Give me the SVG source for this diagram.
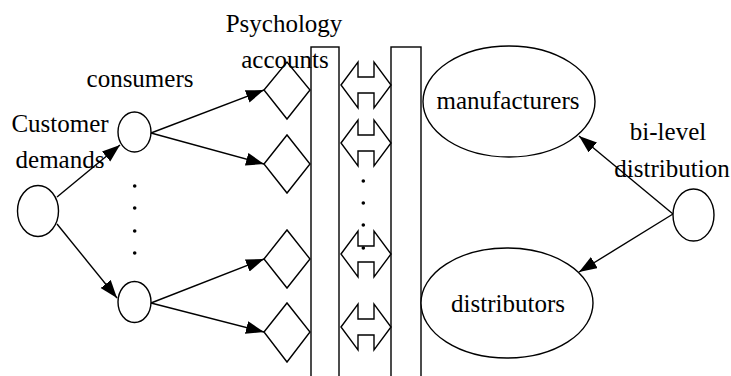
<svg xmlns="http://www.w3.org/2000/svg" width="731" height="376" viewBox="0 0 731 376">
<style>
  .n { fill: #fff; stroke: #000; stroke-width: 1.4; }
  .e { stroke: #000; stroke-width: 1.4; fill: none; }
  .t { font-family: "Liberation Serif", "Times New Roman", serif; font-size: 25px; fill: #000; text-anchor: middle; }
  .d { fill: #000; }
</style>
<defs>
  <marker id="ah" markerUnits="userSpaceOnUse" markerWidth="19" markerHeight="14" refX="18" refY="6.5" orient="auto">
    <path d="M0,0 L18,6.5 L0,13 z" fill="#000"/>
  </marker>
  <path id="dbl" d="M0,0 L17,-23 L17,-8 L33,-8 L33,-23 L50,0 L33,23 L33,8 L17,8 L17,23 z"/>
</defs>
<rect width="731" height="376" fill="#fff"/>

<g id="columns">
  <rect class="n" x="311" y="47" width="28" height="340"/>
  <rect class="n" x="391" y="47" width="30" height="340"/>
</g>

<g id="connectors">
  <line class="e" x1="57" y1="197" x2="120" y2="145" marker-end="url(#ah)"/>
  <line class="e" x1="57" y1="224" x2="117" y2="298" marker-end="url(#ah)"/>
  <line class="e" x1="151" y1="133" x2="264" y2="90" marker-end="url(#ah)"/>
  <line class="e" x1="151" y1="133" x2="264" y2="164" marker-end="url(#ah)"/>
  <line class="e" x1="151" y1="303" x2="264" y2="259" marker-end="url(#ah)"/>
  <line class="e" x1="151" y1="303" x2="264" y2="332" marker-end="url(#ah)"/>
  <line class="e" x1="673" y1="214" x2="579" y2="136" marker-end="url(#ah)"/>
  <line class="e" x1="673" y1="214" x2="579" y2="272" marker-end="url(#ah)"/>
</g>

<g id="customer-demands">
  <ellipse class="n" cx="38" cy="211" rx="20.5" ry="25.5"/>
  <text class="t" x="60" y="132">Customer</text>
  <text class="t" x="60" y="168">demands</text>
</g>

<g id="consumers">
  <text class="t" x="140" y="87">consumers</text>
  <ellipse class="n" cx="134.5" cy="132" rx="16.5" ry="20"/>
  <ellipse class="n" cx="134.5" cy="302" rx="16.5" ry="20.5"/>
  <circle class="d" cx="134.7" cy="186" r="1.8"/>
  <circle class="d" cx="134.7" cy="208" r="1.8"/>
  <circle class="d" cx="134.7" cy="231" r="1.8"/>
  <circle class="d" cx="134.7" cy="253" r="1.8"/>
</g>

<g id="psychology-accounts">
  <polygon class="n" points="264,90 287,62 310,90 287,119"/>
  <polygon class="n" points="264,164 287,135 310,164 287,193"/>
  <polygon class="n" points="264,259 287,230 310,259 287,288"/>
  <polygon class="n" points="264,332 287,303 310,332 287,362"/>
  <text class="t" x="284" y="32">Psychology</text>
  <text class="t" x="285" y="68">accounts</text>
</g>

<g id="exchange">
  <use href="#dbl" class="n" transform="translate(341,85)"/>
  <use href="#dbl" class="n" transform="translate(341,143)"/>
  <use href="#dbl" class="n" transform="translate(341,254)"/>
  <use href="#dbl" class="n" transform="translate(341,327)"/>
  <circle class="d" cx="363.3" cy="181" r="1.8"/>
  <circle class="d" cx="363.3" cy="203" r="1.8"/>
  <circle class="d" cx="363.3" cy="225" r="1.8"/>
  <circle class="d" cx="363.3" cy="248" r="1.8"/>
</g>

<g id="manufacturers">
  <ellipse class="n" cx="509" cy="101.5" rx="86" ry="55.5"/>
  <text class="t" x="508" y="109">manufacturers</text>
</g>

<g id="distributors">
  <ellipse class="n" cx="507" cy="303" rx="86" ry="55"/>
  <text class="t" x="508" y="312">distributors</text>
</g>

<g id="bi-level-distribution">
  <ellipse class="n" cx="693.5" cy="215" rx="20.5" ry="26"/>
  <text class="t" x="668" y="140">bi-level</text>
  <text class="t" x="672" y="177">distribution</text>
</g>
</svg>
